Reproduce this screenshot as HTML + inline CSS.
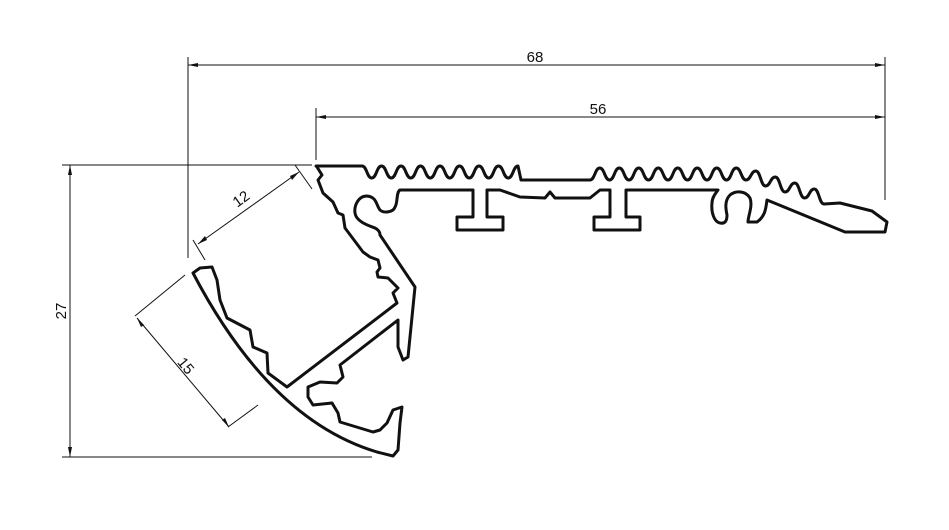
<!DOCTYPE html>
<html><head><meta charset="utf-8"><style>
html,body{margin:0;padding:0;background:#fff;}
svg{display:block;}
text{font-family:"Liberation Sans",sans-serif;font-size:15px;fill:#111;}
</style></head><body>
<svg width="949" height="530" viewBox="0 0 949 530" xmlns="http://www.w3.org/2000/svg">
<g stroke="#111" stroke-width="1" fill="none">
<line x1="188" y1="57" x2="188" y2="258"/>
<line x1="885" y1="57" x2="885" y2="200"/>
<line x1="188" y1="65" x2="885" y2="65"/>
<line x1="316" y1="108" x2="316" y2="160"/>
<line x1="316" y1="117" x2="885" y2="117"/>
<line x1="62" y1="165" x2="312" y2="165"/>
<line x1="62" y1="457" x2="372" y2="457"/>
<line x1="70" y1="165" x2="70" y2="457"/>
<line x1="295" y1="165" x2="312" y2="189"/>
<line x1="193" y1="240" x2="205" y2="260"/>
<line x1="198" y1="244" x2="299" y2="172"/>
<line x1="135" y1="316" x2="185" y2="275"/>
<line x1="228" y1="427" x2="258" y2="405"/>
<line x1="137" y1="318" x2="229" y2="427"/>
</g>
<g fill="#111">
<polygon points="188,65 198,63 198,67"/>
<polygon points="885,65 875,63 875,67"/>
<polygon points="316,117 326,115 326,119"/>
<polygon points="885,117 875,115 875,119"/>
<polygon points="70,165 68,175 72,175"/>
<polygon points="70,457 68,447 72,447"/>
<polygon points="198,244 205,236 207,240"/>
<polygon points="299,172 290,176 292,180"/>
<polygon points="137,318 141,327 144,325"/>
<polygon points="229,427 222,420 225,418"/>
</g>
<text x="535" y="62" text-anchor="middle">68</text>
<text x="598" y="114" text-anchor="middle">56</text>
<text transform="translate(66,311) rotate(-90)" text-anchor="middle">27</text>
<text transform="translate(244,203) rotate(-36)" text-anchor="middle">12</text>
<text transform="translate(182,369) rotate(50)" text-anchor="middle">15</text>

<path fill="none" stroke="#111" stroke-width="3" stroke-linejoin="round" d="
M316,166 L362,166
c4.9,0 4.9,12 9.75,12
s4.9,-12 9.75,-12 s4.9,12 9.75,12
s4.9,-12 9.75,-12 s4.9,12 9.75,12
s4.9,-12 9.75,-12 s4.9,12 9.75,12
s4.9,-12 9.75,-12 s4.9,12 9.75,12
s4.9,-12 9.75,-12 s4.9,12 9.75,12
s4.9,-12 9.75,-12 s4.9,12 9.75,12
s4.9,-12 9.75,-12 s4.9,12 9.75,12
s4.9,-12 9.75,-12
L521,180 L590,180
c4.9,0 4.9,-12 9.75,-12
s4.9,12 9.75,12 s4.9,-12 9.75,-12
s4.9,12 9.75,12 s4.9,-12 9.75,-12
s4.9,12 9.75,12 s4.9,-12 9.75,-12
s4.9,12 9.75,12 s4.9,-12 9.75,-12
s4.9,12 9.75,12 s4.9,-12 9.75,-12
s4.9,12 9.75,12 s4.9,-12 9.75,-12
s4.9,12 9.75,12 s4.9,-12 9.75,-12
s4.9,12 9.75,12
s4.9,-9 9.75,-9 s4.9,15 9.75,15
s4.9,-9 9.75,-9 s4.9,15 9.75,15
s4.9,-9 9.75,-9 s4.9,15 9.75,15
s4.9,-9 9.75,-9 s4.9,15 9.75,15
L840,203 L872,211 L887,222 L885,232 L845,232 L767,200
C766,206 766,216 757,222 L748,222 C748,216 753,206 750,198 C746,191 736,190 730,195 C724,201 726,210 727,215 C727,221 725,224 720,223 C714,222 711,212 712,203 C712,198 715,194 718,190
L626,190 L626,217 L640,217 L640,230 L594,230 L594,217 L610,217 L610,190 L600,190 L590,198 L555,198 L550,192 L545,198 L520,197 L500,190 L487,190
L487,217 L503,217 L503,230 L457,230 L457,217 L473,217 L473,190 L400,190
C396,192 398,203 395,207 C393,213 383,213 380,210 C376,205 377,197 367,196 C358,196 354,206 355,213 C356,222 370,226 375,228 C379,230 380,233 380,235
L415,287 L408,357 L403,360 L398,347 L398,320
L340,365 L343,377 L337,383 L320,382 L308,387 L308,397 L313,405 L332,403 L338,413 L340,422 L373,432 L380,430 L387,423 L393,410 L402,407 L400,423 L398,450 L393,456 L377,452
Q270,420 193,273
L200,268 L212,267 L217,280 L220,300 L227,318 L250,330 L253,347 L267,353 L268,373 L287,387
L397,303 L393,293 L398,288 L388,278 L378,277 L377,272 L380,268 L378,260 L370,257 L363,252 L345,228 L343,215 L338,213 L333,202 L323,193 L318,180 L322,175 L317,167 Z"/>
</svg>
</body></html>
